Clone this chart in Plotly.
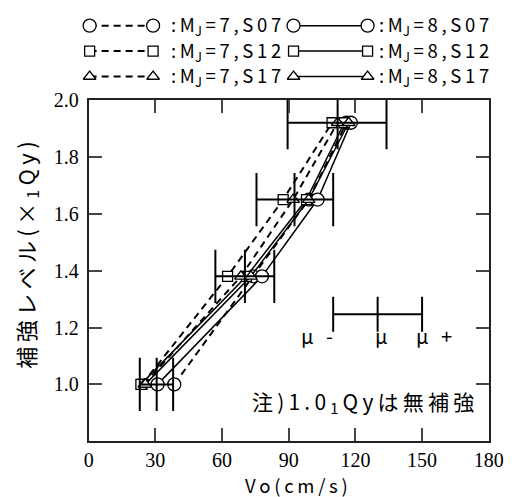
import plotly.graph_objects as go

# ---------------- data ----------------
levels = [1.0, 1.38, 1.65, 1.92]

mj7_s07 = [38.5, 74.0, 99.0, 116.0]
mj8_s07 = [31.0, 78.0, 103.0, 118.0]
mj7_s12 = [24.0, 62.5, 87.5, 109.5]
mj8_s12 = [23.5, 71.0, 98.0, 115.0]
mj7_s17 = [25.0, 68.5, 92.0, 112.0]
mj8_s17 = [25.5, 73.0, 99.0, 117.0]

mu_minus = [23.0, 57.0, 75.5, 89.5]
mu_mean = [30.6, 70.3, 92.6, 112.0]
mu_plus = [38.0, 83.5, 110.0, 134.0]

key_level = 1.247
key_vals = [110, 130, 150]
key_labels = ["μ -", "μ", "μ +"]

x_ticks = [0, 30, 60, 90, 120, 150, 180]
y_ticks = [1.0, 1.2, 1.4, 1.6, 1.8, 2.0]
y_tick_text = ["1.0", "1.2", "1.4", "1.6", "1.8", "2.0"]

series = [
    (mj7_s07, "circle", 13, "7px,5px", "7", "S07"),
    (mj8_s07, "circle", 13, "solid", "8", "S07"),
    (mj7_s12, "square", 10, "7px,5px", "7", "S12"),
    (mj8_s12, "square", 10, "solid", "8", "S12"),
    (mj7_s17, "triangle-up", 11, "7px,5px", "7", "S17"),
    (mj8_s17, "triangle-up", 11, "solid", "8", "S17"),
]

TS = "\u2009"  # thin space used as letter spacing


def spaced(s):
    return TS.join(list(s))


# ---------------- figure ----------------
W, H = 523, 497
PL, PR, PT, PB = 87, 503, 91, 440

JP = "Noto Sans CJK JP"
SERIF = "Liberation Serif"

fig = go.Figure()

# data series
for vals, sym, sz, dash, mj, s in series:
    fig.add_trace(go.Scatter(
        x=vals, y=levels, mode="lines+markers",
        line=dict(color="black", width=1.5 if dash == "solid" else 2, dash=dash),
        marker=dict(symbol=sym, size=sz, color="white", line=dict(color="black", width=1.3)),
        showlegend=False, hoverinfo="skip"))

# error bars (mu-, mu, mu+)
for i, lv in enumerate(levels):
    fig.add_trace(go.Scatter(
        x=[mu_minus[i], mu_mean[i], mu_plus[i]], y=[lv, lv, lv],
        mode="lines+markers",
        line=dict(color="black", width=2),
        marker=dict(symbol="line-ns", size=38, line=dict(color="black", width=2)),
        showlegend=False, hoverinfo="skip"))

# key error bar
fig.add_trace(go.Scatter(
    x=key_vals, y=[key_level] * 3, mode="lines+markers",
    line=dict(color="black", width=2),
    marker=dict(symbol="line-ns", size=25, line=dict(color="black", width=2)),
    showlegend=False, hoverinfo="skip"))
key_anchor = ["right", "center", "center"]
key_xshift = [2, 4, 12]
for v, t, a, xs in zip(key_vals, key_labels, key_anchor, key_xshift):
    fig.add_annotation(x=v, y=key_level, yshift=-21, xshift=xs, text=spaced(t), showarrow=False,
                       font=dict(family=JP, size=20, color="black"),
                       xanchor=a, yanchor="middle")

# ---------- custom legend on a pixel overlay axis ----------
rows_y = [15, 41, 67]
left_key = (88, 154, 172)
right_key = (300, 377, 388)
for k, (vals, sym, sz, dash, mj, s) in enumerate(series):
    ry = rows_y[k // 2]
    x0, x1, tx = left_key if k % 2 == 0 else right_key
    fig.add_trace(go.Scatter(
        x=[x0, x1], y=[ry, ry], xaxis="x2", yaxis="y2", mode="lines+markers",
        line=dict(color="black", width=1.5 if dash == "solid" else 2, dash=dash),
        marker=dict(symbol=sym, size=sz, color="white", line=dict(color="black", width=1.3)),
        showlegend=False, hoverinfo="skip"))
    txt = TS.join([":", "M<sub>J</sub>", "=", mj, ",", *list(s)])
    fig.add_annotation(x=tx, y=ry, xref="x2", yref="y2",
                       text=txt, showarrow=False,
                       xanchor="left", yanchor="middle", borderpad=0,
                       font=dict(family=JP, size=18.5, color="black"))

# note text
note = TS.join(["注", ")", "1", ".", "0", "<sub>1</sub>", "Q", "y", "は", "無", "補", "強"])
fig.add_annotation(x=72.5, y=0.937, text=note, showarrow=False,
                   xanchor="left", yanchor="middle",
                   font=dict(family=JP, size=21, color="black"))

# axis titles (pixel overlay)
fig.add_annotation(x=303, y=484.5, xref="x2", yref="y2", text=spaced("Vo(cm/s)"),
                   showarrow=False, xanchor="center", yanchor="middle", borderpad=0,
                   font=dict(family=JP, size=18.5, color="black"))
ytitle = TS.join(["補", "強", "レ", "ベ", "ル", "(", "×", "<sub>1</sub>", "Q", "y", ")"])
fig.add_annotation(x=22, y=250, xref="x2", yref="y2", text=ytitle, textangle=-90,
                   showarrow=False, xanchor="center", yanchor="middle",
                   font=dict(family=JP, size=22, color="black"))

axis_common = dict(showline=True, linecolor="#222", linewidth=2, mirror="ticks",
                   ticks="inside", ticklen=13, tickwidth=1.5, tickcolor="#444",
                   showgrid=False, zeroline=False,
                   tickfont=dict(family=SERIF, size=20, color="black"))

fig.update_layout(
    width=W, height=H,
    margin=dict(l=0, r=0, t=0, b=0),
    paper_bgcolor="white", plot_bgcolor="rgba(0,0,0,0)",
    xaxis=dict(domain=[PL / W, PR / W], range=[0, 180], tickvals=x_ticks, **axis_common),
    yaxis=dict(domain=[1 - PB / H, 1 - PT / H], range=[0.8, 2.0], tickvals=y_ticks,
               ticktext=y_tick_text, ticklabelstandoff=4, **axis_common),
    xaxis2=dict(domain=[0, 1], range=[0, W], visible=False, anchor="y2", fixedrange=True),
    yaxis2=dict(domain=[0, 1], range=[H, 0], visible=False, anchor="x2", fixedrange=True),
)

fig.write_html("out.html")
